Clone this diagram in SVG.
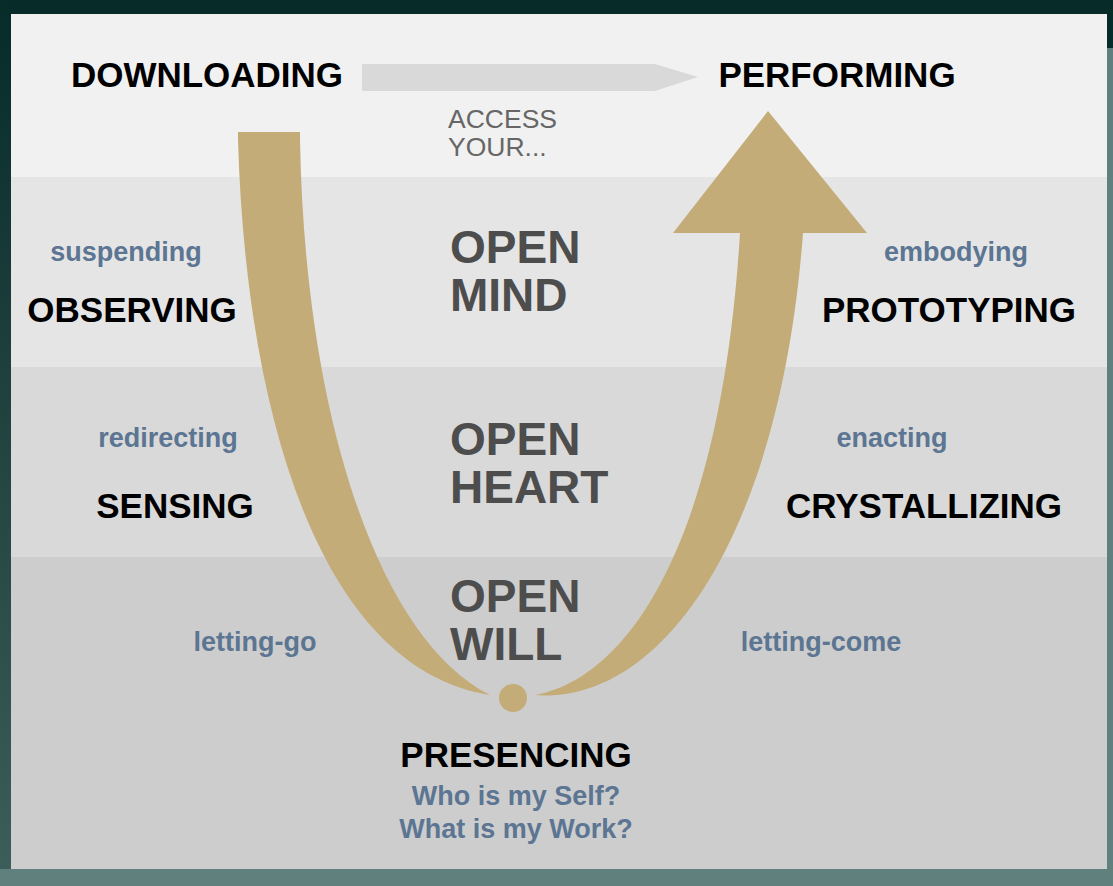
<svg xmlns="http://www.w3.org/2000/svg" width="1113" height="886" viewBox="0 0 1113 886">
  <defs>
    <style>
      .stage { font-family: "Liberation Sans", Arial, sans-serif; font-weight: bold; font-size: 35px; fill: #000; text-anchor: middle; }
      .act { font-family: "Liberation Sans", Arial, sans-serif; font-weight: bold; font-size: 27px; fill: #5b7592; text-anchor: middle; }
      .open { font-family: "Liberation Sans", Arial, sans-serif; font-weight: bold; font-size: 46px; fill: #4d4d4d; }
      .access { font-family: "Liberation Sans", Arial, sans-serif; font-size: 26.5px; fill: #666; }
      .gold { fill: #c4ac78; }
    </style>
    <linearGradient id="leftEdge" x1="0" y1="0" x2="0" y2="1">
      <stop offset="0" stop-color="#072b29"/>
      <stop offset="1" stop-color="#3d5e5a"/>
    </linearGradient>
  </defs>

  <!-- frame background -->
  <rect x="0" y="0" width="1113" height="886" fill="#072b29"/>
  <rect x="0" y="0" width="12" height="886" fill="url(#leftEdge)"/>
  <rect x="1106" y="48" width="7" height="838" fill="#5f807d"/>
  <rect x="0" y="869" width="1113" height="17" fill="#5f807d"/>

  <!-- bands -->
  <g id="bands">
    <rect x="11" y="14" width="1096" height="163" fill="#f1f1f1"/>
    <rect x="11" y="177" width="1096" height="190" fill="#e5e5e5"/>
    <rect x="11" y="367" width="1096" height="190" fill="#d9d9d9"/>
    <rect x="11" y="557" width="1096" height="312" fill="#cdcdcd"/>
  </g>

  <!-- connectors -->
  <g id="connectors">
    <polygon points="362,64 655,64 698,77 655,91 362,91" fill="#d9d9d9"/>
    <path class="gold" d="M238,132 L300,132 L300,140 C305,420 380,640 490,695 C320,668 246,415 238,140 Z"/>
    <path class="gold" d="M535,695 C620,680 720,560 740,233 L673,233 L768,111 L867,233 L803,233 C780,540 660,705 535,695 Z"/>
    <circle class="gold" cx="513" cy="698" r="14"/>
  </g>

  <g id="downloading"><text class="stage" x="207" y="87">DOWNLOADING</text></g>
  <g id="performing"><text class="stage" x="837" y="87">PERFORMING</text></g>
  <g id="access"><text class="access" x="448" y="128">ACCESS</text><text class="access" x="448" y="156">YOUR...</text></g>

  <g id="open-mind"><text class="open" x="450" y="263">OPEN</text><text class="open" x="450" y="311">MIND</text></g>
  <g id="open-heart"><text class="open" x="450" y="455">OPEN</text><text class="open" x="450" y="503">HEART</text></g>
  <g id="open-will"><text class="open" x="450" y="612">OPEN</text><text class="open" x="450" y="660">WILL</text></g>

  <g id="observing"><text class="act" x="126" y="261">suspending</text><text class="stage" x="132" y="322">OBSERVING</text></g>
  <g id="sensing"><text class="act" x="168" y="447">redirecting</text><text class="stage" x="175" y="518">SENSING</text></g>
  <g id="letting-go"><text class="act" x="255" y="651">letting-go</text></g>

  <g id="prototyping"><text class="act" x="956" y="261">embodying</text><text class="stage" x="949" y="322">PROTOTYPING</text></g>
  <g id="crystallizing"><text class="act" x="892" y="447">enacting</text><text class="stage" x="924" y="518">CRYSTALLIZING</text></g>
  <g id="letting-come"><text class="act" x="821" y="651">letting-come</text></g>

  <g id="presencing">
    <text class="stage" x="516" y="767">PRESENCING</text>
    <text class="act" x="516" y="805">Who is my Self?</text>
    <text class="act" x="516" y="838">What is my Work?</text>
  </g>
</svg>
